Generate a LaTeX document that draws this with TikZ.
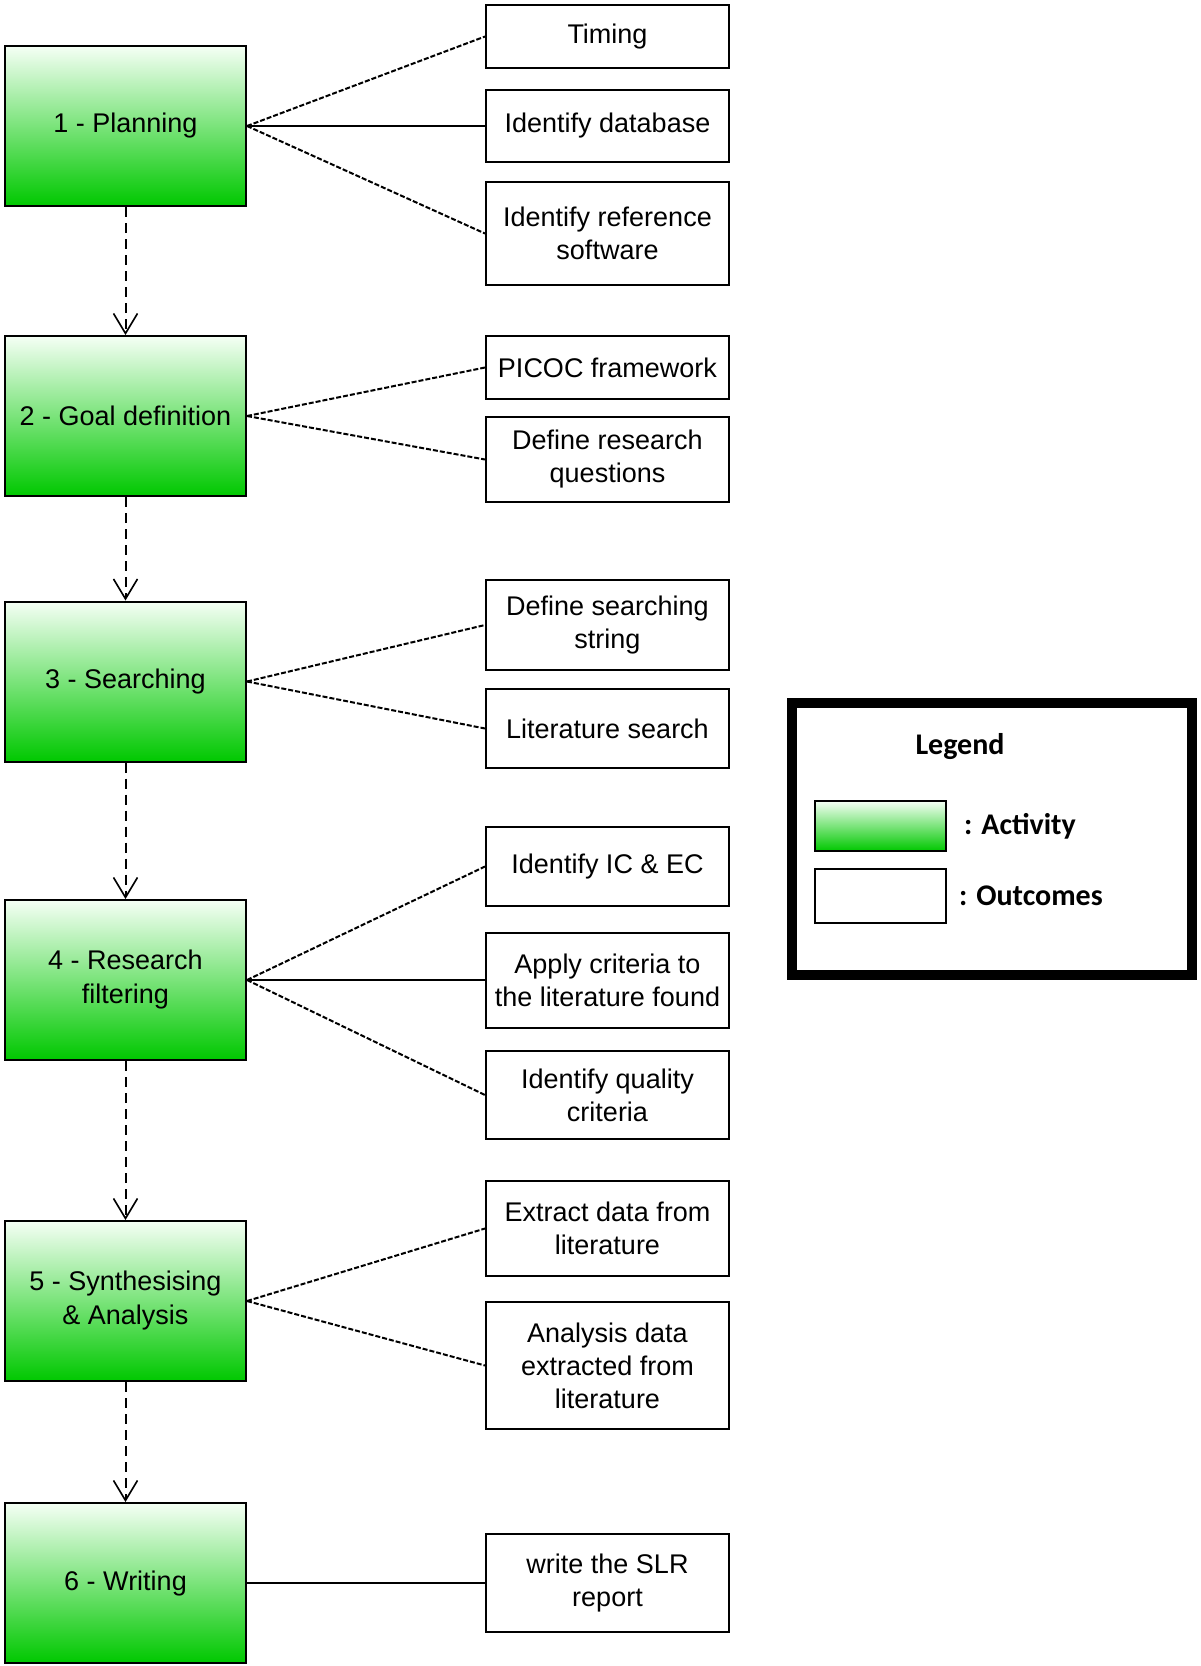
\documentclass[tikz,border=0pt]{standalone}
\usepackage{fontspec}
\setmainfont{Liberation Sans}
\newfontfamily\legendfont{Carlito}
\usetikzlibrary{positioning,arrows.meta}
\definecolor{actgreen}{RGB}{0,200,0}
\definecolor{actlight}{RGB}{245,255,245}

\begin{document}
\begin{tikzpicture}[x=1pt, y=-1pt,
	activity/.style={rectangle, draw, line width=2pt, top color=actlight, bottom color=actgreen, minimum width=241pt, minimum height=160pt, align=center, font=\fontsize{27}{34}\selectfont, inner sep=0pt},
	outcome/.style={rectangle, draw, line width=2pt, fill=white, minimum width=243pt, align=center, font=\fontsize{27}{33}\selectfont, inner sep=0pt},
	flow/.style={line width=2pt, dash pattern=on 10pt off 6pt, -{Straight Barb[length=20pt, width=24pt, line width=1.6pt]}},
	link/.style={line width=2pt, dash pattern=on 5pt off 2pt},
	solidlink/.style={line width=2pt}]
	\useasboundingbox (0,0) rectangle (1200,1666);
	\node[activity] (a1) at (125.5,126) {1 - Planning};
	\node[activity] (a2) at (125.5,416) {2 - Goal definition};
	\node[activity] (a3) at (125.5,681.5) {3 - Searching};
	\node[activity] (a4) at (125.5,980) {4 - Research\\filtering};
	\node[activity] (a5) at (125.5,1301) {5 - Synthesising\\\& Analysis};
	\node[activity] (a6) at (125.5,1583) {6 - Writing};
	\draw[flow] (a1) -- (a2);
	\draw[flow] (a2) -- (a3);
	\draw[flow] (a3) -- (a4);
	\draw[flow] (a4) -- (a5);
	\draw[flow] (a5) -- (a6);
	\node[outcome, minimum height=63pt] (o11) at (607.5,36.5) {Timing};
	\node[outcome, minimum height=72pt] (o12) at (607.5,126) {Identify database};
	\node[outcome, minimum height=103pt] (o13) at (607.5,233.5) {Identify reference\\software};
	\node[outcome, minimum height=63pt] (o21) at (607.5,367.5) {PICOC framework};
	\node[outcome, minimum height=85pt] (o22) at (607.5,459.5) {Define research\\questions};
	\node[outcome, minimum height=90pt] (o31) at (607.5,625) {Define searching\\string};
	\node[outcome, minimum height=79pt] (o32) at (607.5,728.5) {Literature search};
	\node[outcome, minimum height=79pt] (o41) at (607.5,866.5) {Identify IC \& EC};
	\node[outcome, minimum height=95pt] (o42) at (607.5,980) {Apply criteria to\\the literature found};
	\node[outcome, minimum height=88pt] (o43) at (607.5,1095) {Identify quality\\criteria};
	\node[outcome, minimum height=95pt] (o51) at (607.5,1228.5) {Extract data from\\literature};
	\node[outcome, minimum height=127pt] (o52) at (607.5,1365.5) {Analysis data\\extracted from\\literature};
	\node[outcome, minimum height=98pt] (o61) at (607.5,1583) {write the SLR\\report};
	\draw[link] (a1.east) -- (o11.west);
	\draw[solidlink] (a1.east) -- (o12.west);
	\draw[link] (a1.east) -- (o13.west);
	\draw[link] (a2.east) -- (o21.west);
	\draw[link] (a2.east) -- (o22.west);
	\draw[link] (a3.east) -- (o31.west);
	\draw[link] (a3.east) -- (o32.west);
	\draw[link] (a4.east) -- (o41.west);
	\draw[solidlink] (a4.east) -- (o42.west);
	\draw[link] (a4.east) -- (o43.west);
	\draw[link] (a5.east) -- (o51.west);
	\draw[link] (a5.east) -- (o52.west);
	\draw[solidlink] (a6.east) -- (o61.west);
	\node[rectangle, draw, line width=10pt, minimum width=400pt, minimum height=272pt] (legend) at (992,839) {};
	\node[font=\legendfont\bfseries\fontsize{30}{36}\selectfont] (legtitle) at (960,747) {Legend};
	\node[rectangle, draw, line width=1.6pt, top color=actlight, bottom color=actgreen, minimum width=131pt, minimum height=50pt] (actkey) at (880.5,826) {};
	\node[rectangle, draw, line width=1.6pt, fill=white, minimum width=131pt, minimum height=54pt] (outkey) at (880.5,896) {};
	\node[font=\legendfont\bfseries\fontsize{30}{36}\selectfont, anchor=west, inner sep=0pt, right=17pt of actkey] (actlabel) {: Activity};
	\node[font=\legendfont\bfseries\fontsize{30}{36}\selectfont, anchor=west, inner sep=0pt, right=12pt of outkey] (outlabel) {: Outcomes};
\end{tikzpicture}
\end{document}
